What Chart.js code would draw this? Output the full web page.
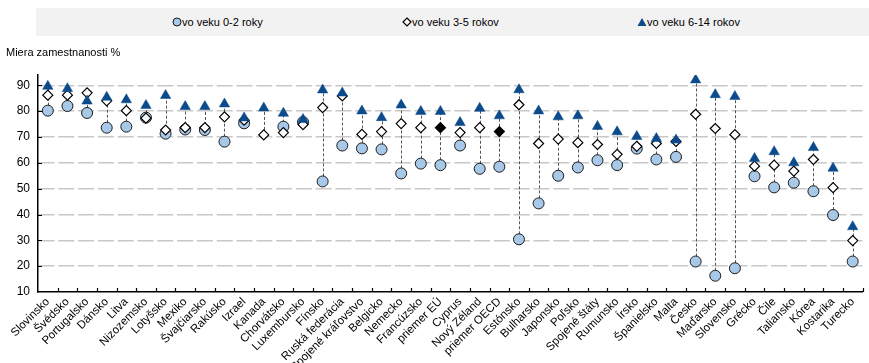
<!DOCTYPE html>
<html>
<head>
<meta charset="utf-8">
<script src="https://cdn.jsdelivr.net/npm/chart.js@4"></script>
<style>
  body { margin: 0; background: #fff; font-family: "Liberation Sans", Arial, sans-serif; }
  #wrap { position: relative; width: 869px; height: 363px; overflow: hidden; }
  #legend { position: absolute; left: 36px; top: 8px; width: 833px; height: 28px; background: #f2f2f2; }
  .item { position: absolute; top: 0; height: 28px; line-height: 28px; font-size: 11px; color: #000; white-space: nowrap; }
  .item svg { position: absolute; top: 9px; }
  .item span { position: absolute; top: 0; }
  #ytitle { position: absolute; left: 6px; top: 46px; font-size: 11px; color: #000; }
  canvas { position: absolute; left: 0; top: 0; }
</style>
</head>
<body>
<div id="wrap">
  <canvas id="chart" width="869" height="363"></canvas>
  <div id="legend">
    <div class="item" style="left:136px">
      <svg width="10" height="10"><circle cx="5" cy="5" r="4" fill="#a8c8e8" stroke="#1a1a1a" stroke-width="1"/></svg>
      <span style="left:10px">vo veku 0-2 roky</span>
    </div>
    <div class="item" style="left:366px">
      <svg width="10" height="10"><polygon points="5,1 9,5 5,9 1,5" fill="#fff" stroke="#000" stroke-width="1.2"/></svg>
      <span style="left:10px">vo veku 3-5 rokov</span>
    </div>
    <div class="item" style="left:601px">
      <svg width="10" height="10"><polygon points="5,1 9.5,9 0.5,9" fill="#0b4a8b"/></svg>
      <span style="left:10px">vo veku 6-14 rokov</span>
    </div>
  </div>
  <div id="ytitle">Miera zamestnanosti %</div>
</div>
<script>
const countries = [
    "Slovinsko", "Švédsko", "Portugalsko", "Dánsko", "Litva", "Nizozemsko", "Lotyšsko",
    "Mexiko", "Švajčiarsko", "Rakúsko", "Izrael", "Kanada", "Chorvátsko", "Luxembursko",
    "Fínsko", "Ruská federácia", "Spojené kráľovstvo", "Belgicko", "Nemecko", "Francúzsko",
    "priemer EÚ", "Cyprus", "Nový Zéland", "priemer OECD", "Estónsko", "Bulharsko",
    "Japonsko", "Poľsko", "Spojené štáty", "Rumunsko", "Írsko", "Španielsko", "Malta",
    "Česko", "Maďarsko", "Slovensko", "Grécko", "Čile", "Taliansko", "Kórea", "Kostarika",
    "Turecko",
];

// vo veku 0-2 roky
const age0to2 = [
    80.2, 82.0, 79.3, 73.6, 74.0, 77.5, 71.3, 72.9, 72.7, 68.2, 75.3, null, 74.0, 75.8,
    52.8, 66.7, 65.6, 65.2, 55.9, 59.7, 59.1, 66.7, 57.7, 58.5, 30.4, 44.3,
    55.0, 58.2, 61.0, 59.1, 65.5, 61.3, 62.3, 21.8, 16.3, 19.2, 54.8, 50.5, 52.3, 49.0, 39.8,
    21.8,
];

// vo veku 3-5 rokov
const age3to5 = [
    86.2, 86.2, 87.1, 84.0, 80.2, 77.3, 72.7, 73.6, 73.6, 77.8, 76.5, 70.8, 71.7, 74.8,
    81.4, 85.9, 71.0, 72.1, 75.2, 73.6, 73.6, 71.7, 73.6, 72.1, 82.5, 67.5,
    69.2, 67.8, 67.1, 63.3, 66.4, 67.5, 68.3, 78.8, 73.3, 70.9, 58.7, 59.1, 56.8, 61.3, 50.4,
    29.9,
];

// vo veku 6-14 rokov
const age6to14 = [
    89.6, 88.7, 83.9, 85.4, 84.4, 82.2, 86.1, 81.8, 81.8, 82.8, 77.4, 81.2, 79.2, 76.8,
    88.2, 87.0, 80.1, 77.5, 82.4, 79.9, 79.9, 75.6, 81.1, 78.2, 88.3, 80.1,
    77.8, 78.2, 74.1, 72.0, 70.2, 69.4, 68.8, 92.1, 86.4, 85.7, 61.7, 64.3, 60.0, 65.9, 57.9,
    35.3,
];

const averages = ["priemer EÚ", "priemer OECD"];

const yTicks = [10, 20, 30, 40, 50, 60, 70, 80, 90];

// dashed connector from lowest to highest value of each country
const connectors = {
    id: "connectors",
    beforeDatasetsDraw(chart) {
        const ctx = chart.ctx;
        const x = chart.scales.x;
        const y = chart.scales.y;
        ctx.save();
        ctx.strokeStyle = "#555";
        ctx.lineWidth = 1;
        ctx.setLineDash([3, 2]);
        countries.forEach((_, i) => {
            const vals = [age0to2[i], age3to5[i], age6to14[i]].filter((v) => v != null);
            const lo = Math.min(...vals);
            const hi = Math.max(...vals);
            const px = Math.round(x.getPixelForValue(i)) + 0.5;
            ctx.beginPath();
            ctx.moveTo(px, y.getPixelForValue(lo));
            ctx.lineTo(px, y.getPixelForValue(hi));
            ctx.stroke();
        });
        ctx.restore();
    },
};

// small inward tick marks on both axes
const innerTicks = {
    id: "innerTicks",
    afterDraw(chart) {
        const ctx = chart.ctx;
        const x = chart.scales.x;
        const y = chart.scales.y;
        const area = chart.chartArea;
        ctx.save();
        ctx.strokeStyle = "#000";
        ctx.lineWidth = 1.2;
        ctx.beginPath();
        for (let i = 1; i <= countries.length; i++) {
            const px = Math.round(x.getPixelForValue(i - 0.5)) + 0.5;
            ctx.moveTo(px, area.bottom);
            ctx.lineTo(px, area.bottom - 4);
        }
        yTicks.slice(1).forEach((v) => {
            const py = Math.round(y.getPixelForValue(v)) + 0.5;
            ctx.moveTo(area.left, py);
            ctx.lineTo(area.left + 4, py);
        });
        ctx.stroke();
        ctx.restore();
    },
};

const ctx = document.getElementById("chart").getContext("2d");

new Chart(ctx, {
    type: "line",
    data: {
        labels: countries,
        datasets: [
            {
                label: "vo veku 6-14 rokov",
                data: age6to14,
                showLine: false,
                pointStyle: "triangle",
                pointRadius: 6,
                pointBackgroundColor: "#0b4a8b",
                pointBorderColor: "#0b4a8b",
                pointBorderWidth: 0.5,
                order: 0,
            },
            {
                label: "vo veku 3-5 rokov",
                data: age3to5,
                showLine: false,
                pointStyle: "rectRot",
                pointRadius: 5,
                pointBackgroundColor: countries.map((c) => averages.includes(c) ? "#000" : "#fff"),
                pointBorderColor: "#000",
                pointBorderWidth: 1.2,
                order: 1,
            },
            {
                label: "vo veku 0-2 roky",
                data: age0to2,
                showLine: false,
                pointStyle: "circle",
                pointRadius: 5.5,
                pointBackgroundColor: "#a8c8e8",
                pointBorderColor: "#1a1a1a",
                pointBorderWidth: 1,
                order: 2,
            },
        ],
    },
    options: {
        responsive: false,
        animation: false,
        devicePixelRatio: 1,
        layout: { padding: { top: 75, right: 0, left: 0, bottom: 0 } },
        plugins: {
            legend: { display: false },
            tooltip: { enabled: false },
        },
        scales: {
            x: {
                offset: true,
                grid: { display: false, drawTicks: false },
                border: { display: true, color: "#000", width: 1.5 },
                ticks: {
                    autoSkip: false,
                    maxRotation: 45,
                    minRotation: 45,
                    padding: 3,
                    color: "#000",
                    font: { family: "'Liberation Sans', Arial, sans-serif", size: 11.5 },
                },
                afterFit: (scale) => { scale.height = 71; },
            },
            y: {
                min: 10,
                max: 94,
                ticks: {
                    stepSize: 10,
                    padding: 8,
                    color: "#000",
                    font: { family: "'Liberation Sans', Arial, sans-serif", size: 12 },
                },
                afterBuildTicks: (axis) => {
                    axis.ticks = yTicks.map((v) => ({ value: v }));
                },
                grid: {
                    color: (c) => c.tick && c.tick.value === 10 ? "rgba(0,0,0,0)" : "#c8c8c8",
                    lineWidth: 1.5,
                    drawTicks: false,
                },
                border: { display: true, color: "#000", width: 1.5, dash: [16, 3.8] },
                afterFit: (scale) => { scale.width = 38; },
            },
        },
    },
    plugins: [connectors, innerTicks],
});
</script>
</body>
</html>
